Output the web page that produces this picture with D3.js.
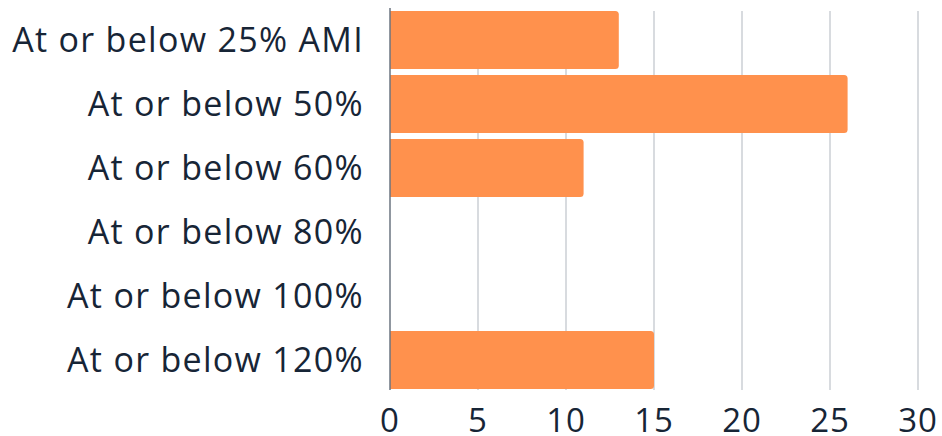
<!DOCTYPE html>
<html>
<head>
<script src="https://d3js.org/d3.v7.min.js"></script>
<style>
  body { margin: 0; background: #fff; }
  text { font-family: "Open Sans", sans-serif; fill: #172536; }
</style>
</head>
<body>
<div id="viz"></div>
<script type="text/javascript">
    var categories = ["At or below 25% AMI", "At or below 50%", "At or below 60%",
                      "At or below 80%", "At or below 100%", "At or below 120%"];
    var values = [13, 26, 11, 0, 0, 15];
    var xTicks = [0, 5, 10, 15, 20, 25, 30];

    var width = 942,
        height = 436;
    var margin = { top: 8, right: 24, bottom: 44, left: 390 };

    var svg = d3.select("#viz")
        .append("svg")
        .attr("width", width)
        .attr("height", height);

    var x = d3.scaleLinear().domain([0, 30]).range([margin.left, margin.left + 528]);
    var y = d3.scaleBand().domain(categories)
        .range([margin.top, height - margin.bottom])
        .paddingInner(0.09).paddingOuter(0.045);

    // gridlines
    svg.append("g").selectAll("line")
        .data(xTicks.slice(1))
        .enter().append("line")
        .attr("x1", function(d){ return x(d); })
        .attr("x2", function(d){ return x(d); })
        .attr("y1", y.range()[0] + 3)
        .attr("y2", y.range()[1] - 2)
        .style("stroke", "#cbcfd4")
        .style("stroke-width", 1.5);

    // bars, rounded on the right end only
    var r = 3.5;
    svg.append("g").selectAll("path")
        .data(values.map(function(v, i){ return { c: categories[i], v: v }; })
                    .filter(function(d){ return d.v > 0; }))
        .enter().append("path")
        .attr("fill", "#ff914d")
        .attr("d", function(d){
            var x0 = x(0), x1 = x(d.v), y0 = y(d.c), h = y.bandwidth();
            return "M" + x0 + "," + y0 +
                   "H" + (x1 - r) +
                   "Q" + x1 + "," + y0 + " " + x1 + "," + (y0 + r) +
                   "V" + (y0 + h - r) +
                   "Q" + x1 + "," + (y0 + h) + " " + (x1 - r) + "," + (y0 + h) +
                   "H" + x0 + "Z";
        });

    // axis line
    svg.append("line")
        .attr("x1", x(0)).attr("x2", x(0))
        .attr("y1", y.range()[0]).attr("y2", y.range()[1] - 2)
        .style("stroke", "#6b7480")
        .style("stroke-width", 1.5);

    // category labels (letter-spacing to get closer to the wide original face)
    svg.append("g").selectAll("text")
        .data(categories)
        .enter().append("text")
        .attr("x", x(0) - 26)
        .attr("y", function(d){ return y(d) + y.bandwidth() / 2; })
        .attr("dy", "0.36em")
        .attr("text-anchor", "end")
        .style("font-size", "34px")
        .style("letter-spacing", "1.3px")
        .text(function(d){ return d; });

    // tick labels
    svg.append("g").selectAll("text")
        .data(xTicks)
        .enter().append("text")
        .attr("x", function(d){ return x(d); })
        .attr("y", 420)
        .attr("dy", "0.36em")
        .attr("text-anchor", "middle")
        .style("font-size", "33px")
        .style("letter-spacing", "1px")
        .text(function(d){ return d; });
</script>
</body>
</html>
